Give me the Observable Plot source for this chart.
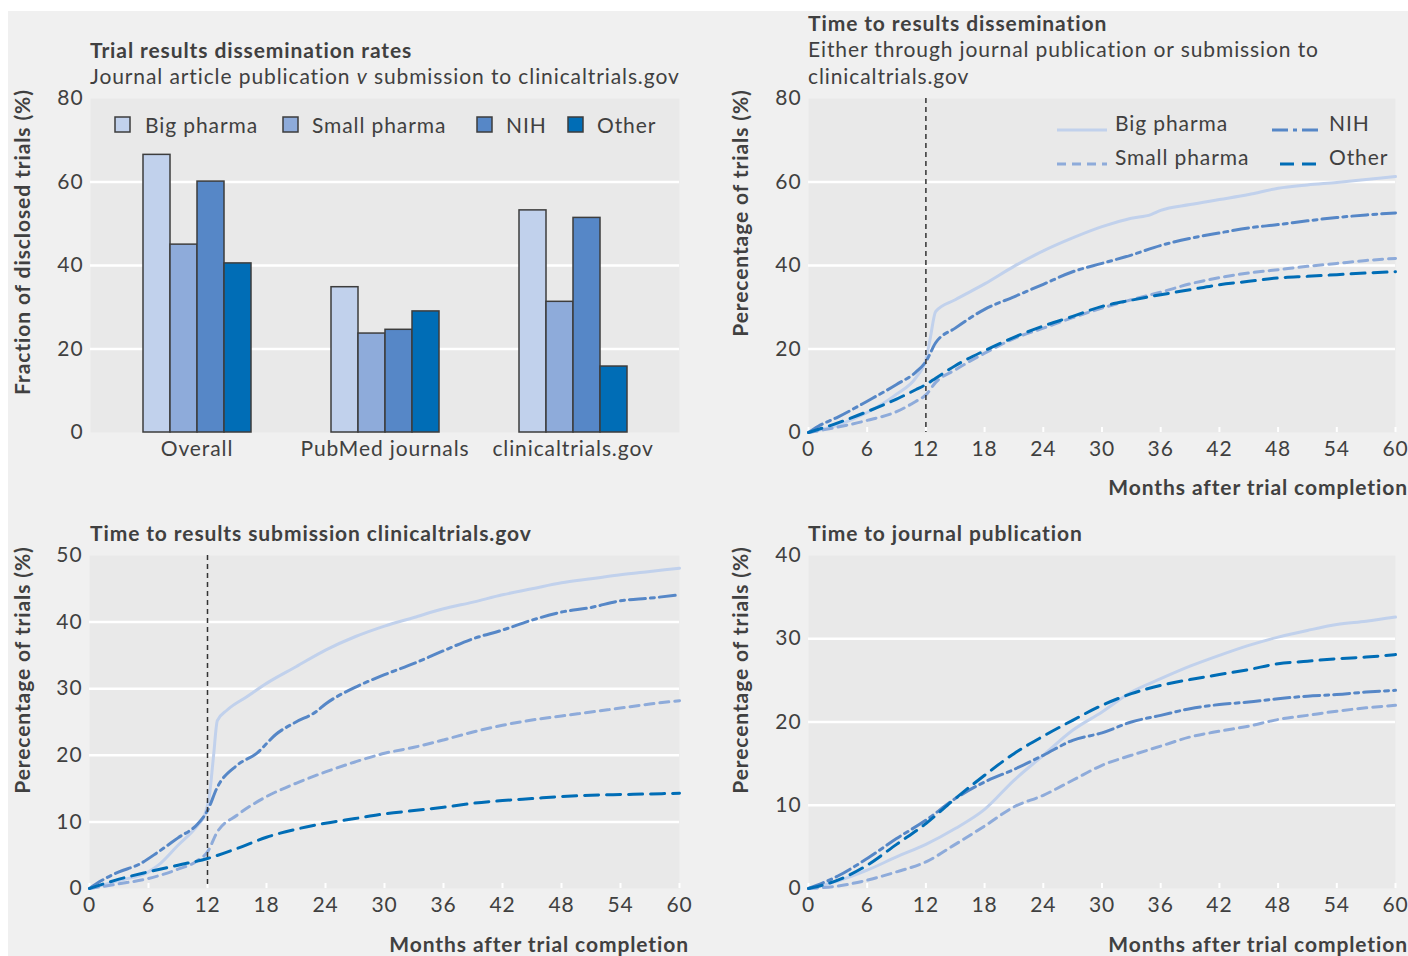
<!DOCTYPE html>
<html><head><meta charset="utf-8">
<script src="https://cdn.jsdelivr.net/npm/d3@7"></script>
<script src="https://cdn.jsdelivr.net/npm/@observablehq/plot@0.6"></script>
<style>
body{margin:0;background:#fff;font-family:Lato,"Open Sans",sans-serif;letter-spacing:0.9px;}
#wrap{position:relative;width:1408px;height:956px;overflow:hidden;}
#bg{position:absolute;left:8px;top:11px;width:1400px;height:945px;background:#f0f0f0;}
.t{position:absolute;white-space:nowrap;line-height:1;color:#404040;}
.box{position:absolute;}
</style></head><body><div id="wrap"><div id="bg"></div></div>
<script>
// ---------- data ----------
const seriesNames = ["Big pharma", "Small pharma", "NIH", "Other"];
const seriesColors = ["#c1d1ec", "#8eabda", "#5687c7", "#006db6"];
const seriesDash = [null, "9,6", "16,5,4,5", "14,8"];

const barGroups = ["Overall", "PubMed journals", "clinicaltrials.gov"];
const barBig = [66.5, 34.8, 53.2];
const barSmall = [45.0, 23.7, 31.3];
const barNIH = [60.1, 24.6, 51.4];
const barOther = [40.5, 29.0, 15.8];
const barTicks = [0, 20, 40, 60, 80];

const monthTicks = [0, 6, 12, 18, 24, 30, 36, 42, 48, 54, 60];
const dissTicks = [0, 20, 40, 60, 80];
const subTicks = [0, 10, 20, 30, 40, 50];
const pubTicks = [0, 10, 20, 30, 40];
const cutoffMonth = [12];

// Time to results dissemination
const dissBig = [[0,0],[3,1.8],[6,4.8],[9,9.2],[11,13.2],[12,17.5],[12.4,22],[13,29],[15,31.8],[18,35.6],[21,39.8],[24,43.5],[27,46.6],[30,49.3],[33,51.3],[35,52.2],[36,53.2],[39,54.6],[42,55.8],[45,57],[48,58.5],[51,59.3],[54,59.9],[57,60.6],[60,61.3]];
const dissSmall = [[0,0],[3,1.3],[6,2.9],[9,5],[11,7.5],[12,9],[13,12],[15,15],[18,19],[21,22.5],[24,25],[27,27.5],[30,29.8],[33,31.8],[36,33.6],[39,35.6],[42,37.1],[45,38.2],[48,39],[51,39.8],[54,40.5],[57,41.2],[60,41.7]];
const dissNIH = [[0,0],[1,1.5],[3,3.7],[6,7.5],[9,11.5],[11,14.5],[12,17],[13,21.5],[15,25],[18,29.5],[21,32.5],[24,35.5],[27,38.5],[30,40.5],[33,42.5],[36,44.8],[39,46.5],[42,47.8],[45,49],[48,49.8],[51,50.7],[54,51.5],[57,52.1],[60,52.6]];
const dissOther = [[0,0],[3,2.3],[6,5],[9,8],[11,10.3],[12,11.5],[13,13],[15,16],[18,19.6],[21,22.8],[24,25.5],[27,27.8],[30,30.2],[33,31.7],[36,33],[39,34.2],[42,35.4],[45,36.2],[48,37],[51,37.4],[54,37.8],[57,38.2],[60,38.5]];

// Time to results submission clinicaltrials.gov
const subBig = [[0,0],[3,1.2],[6,2.5],[7,3.5],[9,6.5],[11,9.5],[11.7,11],[12.2,14],[12.6,19.7],[13,25.2],[14,26.8],[16,28.8],[18,30.8],[21,33.3],[24,35.8],[27,37.8],[30,39.4],[33,40.7],[36,42],[39,43],[42,44.1],[45,45],[48,45.9],[51,46.5],[54,47.1],[57,47.6],[60,48.1]];
const subSmall = [[0,0],[3,0.7],[6,1.5],[9,2.9],[11,4.2],[12,5.5],[13,8.5],[15,11],[18,13.8],[21,15.8],[24,17.5],[27,19],[30,20.3],[33,21.2],[36,22.3],[39,23.5],[42,24.5],[45,25.3],[48,25.9],[51,26.5],[54,27.1],[57,27.7],[60,28.2]];
const subNIH = [[0,0],[1,1],[3,2.5],[5,3.6],[7,5.5],[9,7.6],[11,9.7],[12,11.7],[13,15.2],[15,18.5],[17,20.3],[19,23.2],[21,25],[23,26.5],[24,27.7],[27,30.2],[30,32.1],[33,33.8],[36,35.7],[39,37.5],[42,38.8],[45,40.3],[48,41.5],[51,42.2],[54,43.2],[57,43.6],[60,44.1]];
const subOther = [[0,0],[3,1.4],[6,2.5],[9,3.5],[12,4.5],[15,6],[18,7.7],[21,8.9],[24,9.8],[27,10.5],[30,11.2],[33,11.7],[36,12.2],[39,12.8],[42,13.2],[45,13.5],[48,13.8],[51,14],[54,14.1],[57,14.2],[60,14.3]];

// Time to journal publication
const pubBig = [[0,0],[3,0.9],[6,2.2],[9,3.8],[12,5.3],[15,7.2],[18,9.5],[21,13],[24,16],[27,19],[30,21.2],[33,23.6],[36,25.2],[39,26.7],[42,28],[45,29.2],[48,30.2],[51,31],[54,31.7],[57,32.1],[60,32.6]];
const pubSmall = [[0,0],[3,0.3],[6,1],[9,2],[12,3.2],[15,5.3],[18,7.5],[21,9.8],[24,11.2],[27,13],[30,14.8],[33,16],[36,17.1],[39,18.2],[42,18.9],[45,19.5],[48,20.3],[51,20.8],[54,21.3],[57,21.7],[60,22]];
const pubNIH = [[0,0],[3,1.5],[6,3.6],[9,6],[12,8.2],[15,10.8],[18,12.8],[21,14.3],[24,16],[27,17.8],[30,18.7],[33,20],[36,20.8],[39,21.6],[42,22.1],[45,22.4],[48,22.8],[51,23.1],[54,23.3],[57,23.6],[60,23.8]];
const pubOther = [[0,0],[3,1],[6,2.8],[9,5.3],[12,7.8],[15,10.8],[18,13.6],[21,16.2],[24,18.3],[27,20.2],[30,22],[33,23.4],[36,24.4],[39,25.1],[42,25.7],[45,26.3],[48,27],[51,27.3],[54,27.6],[57,27.8],[60,28.1]];

// ---------- helpers ----------
const wrap = document.getElementById("wrap");
const FONT = "Lato, 'Open Sans', sans-serif";
const TXT = "#404040";
const PLOTBG = "#e9e9e9";

function addText(str, {x, base, size = 21, weight = 400, align = "left"}) {
  const d = document.createElement("div");
  d.className = "t"; d.textContent = str;
  d.style.fontSize = size + "px"; d.style.fontWeight = weight;
  d.style.top = (base - 0.887 * size) + "px";
  if (align === "left") d.style.left = x + "px"; else d.style.right = (1408 - x) + "px";
  wrap.appendChild(d);
  return d;
}
function addTextMid(str, x, cy, size = 21, weight = 400) {
  const d = document.createElement("div");
  d.className = "t"; d.textContent = str;
  d.style.fontSize = size + "px"; d.style.fontWeight = weight;
  d.style.left = x + "px"; d.style.top = (cy - 0.527 * size) + "px";
  wrap.appendChild(d);
}
function addVText(str, cx, cy, size = 21, weight = 700) {
  const d = document.createElement("div");
  d.className = "t"; d.textContent = str;
  d.style.fontSize = size + "px"; d.style.fontWeight = weight;
  d.style.left = cx + "px"; d.style.top = cy + "px";
  d.style.transform = "translate(-50%,-50%) rotate(-90deg)";
  wrap.appendChild(d);
}
function place(node, left, top) {
  const b = document.createElement("div");
  b.className = "box"; b.style.left = left + "px"; b.style.top = top + "px";
  b.appendChild(node); wrap.appendChild(b);
}
const baseStyle = {background: "transparent", fontFamily: FONT, fontSize: "21px", letterSpacing: "0.9px", color: TXT, overflow: "visible"};

function linePanel({series, yTicks, cutoff, left, top, width, height, m}) {
  const yMax = yTicks[yTicks.length - 1];
  const grid = yTicks.filter(t => t > 0 && t < yMax);
  const plotH = height - m.top - m.bottom;
  const marks = [
    Plot.frame({fill: PLOTBG, stroke: "none"}),
    Plot.ruleY(grid, {stroke: "white", strokeWidth: 2.5}),
    Plot.tickX(monthTicks, {x: d => d, stroke: "white", strokeWidth: 2, insetTop: plotH - 5})
  ];
  series.forEach((s, i) => {
    marks.push(Plot.line(s, {x: d => d[0], y: d => d[1], stroke: seriesColors[i], strokeWidth: 3,
      strokeDasharray: seriesDash[i] || undefined, curve: "monotone-x"}));
  });
  if (cutoff) marks.push(Plot.ruleX(cutoffMonth, {stroke: "#333", strokeWidth: 1.5, strokeDasharray: "5,4"}));
  const p = Plot.plot({
    width, height, marginLeft: m.left, marginRight: m.right, marginTop: m.top, marginBottom: m.bottom,
    style: baseStyle,
    x: {domain: [0, 60], ticks: monthTicks, tickSize: 0, tickPadding: 9, label: null},
    y: {domain: [0, yMax], ticks: yTicks, tickSize: 0, tickPadding: 7, label: null},
    marks
  });
  place(p, left, top);
}

// ---------- panel A: bars ----------
const barData = [];
barGroups.forEach((g, gi) => {
  [barBig, barSmall, barNIH, barOther].forEach((arr, si) => {
    barData.push({group: g, series: seriesNames[si], value: arr[gi]});
  });
});
const aM = {left: 90, right: 21, top: 10, bottom: 36};
const under = Plot.plot({
  width: 700, height: 380, marginLeft: aM.left, marginRight: aM.right, marginTop: aM.top, marginBottom: aM.bottom,
  style: baseStyle,
  x: {domain: [0, 1], axis: null},
  y: {domain: [0, 80], ticks: barTicks, tickSize: 0, tickPadding: 7, label: null},
  marks: [
    Plot.frame({fill: PLOTBG, stroke: "none"}),
    Plot.ruleY(barTicks.filter(t => t > 0 && t < 80), {stroke: "white", strokeWidth: 2.5})
  ]
});
place(under, 0, 88);
const bars = Plot.plot({
  width: 700, height: 380, marginLeft: aM.left, marginRight: aM.right, marginTop: aM.top, marginBottom: aM.bottom,
  style: baseStyle,
  fx: {domain: barGroups, paddingInner: 0.41, paddingOuter: 0.27, axis: "bottom", tickSize: 0, tickPadding: 9, label: null},
  x: {domain: seriesNames, padding: 0, axis: null},
  y: {domain: [0, 80], axis: null},
  color: {domain: seriesNames, range: seriesColors},
  marks: [
    Plot.barY(barData, {fx: "group", x: "series", y: "value", fill: "series", stroke: "#3d3d3d", strokeWidth: 1.5})
  ]
});
place(bars, 0, 88);

// bar legend
const boxX = [114, 282, 476, 567];
const boxTextX = [145, 312, 506, 597];
seriesNames.forEach((s, i) => {
  const sv = d3.create("svg").attr("width", 18).attr("height", 18);
  sv.append("rect").attr("x", 1).attr("y", 1).attr("width", 15).attr("height", 15)
    .attr("fill", seriesColors[i]).attr("stroke", "#3d3d3d").attr("stroke-width", 1.5);
  place(sv.node(), boxX[i], 116);
  addTextMid(s, boxTextX[i], 125);
});
addText("Trial results dissemination rates", {x: 90, base: 57.5, weight: 700});
const sub = addText("", {x: 90, base: 83.5});
sub.innerHTML = "Journal article publication <i>v</i> submission to clinicaltrials.gov";
addVText("Fraction of disclosed trials (%)", 21, 242);

// ---------- panel B: dissemination ----------
linePanel({series: [dissBig, dissSmall, dissNIH, dissOther], yTicks: dissTicks, cutoff: true,
  left: 700, top: 90, width: 708, height: 380, m: {left: 108, right: 13, top: 8, bottom: 38}});
addText("Time to results dissemination", {x: 808, base: 30.7, weight: 700});
addText("Either through journal publication or submission to", {x: 808, base: 56.7});
addText("clinicaltrials.gov", {x: 808, base: 83.3});
addText("Months after trial completion", {x: 1408, base: 495, weight: 700, align: "right"});
addVText("Perecentage of trials (%)", 739, 213);
// line legend
const legX = [1057, 1057, 1272, 1280];
const legW = [50, 50, 50, 42];
const legTX = [1115, 1115, 1329, 1329];
const legY = [122, 156, 122, 156];
[0, 1, 2, 3].forEach(i => {
  const sv = d3.create("svg").attr("width", legW[i]).attr("height", 8);
  sv.append("line").attr("x1", 0).attr("x2", legW[i]).attr("y1", 4).attr("y2", 4)
    .attr("stroke", seriesColors[i]).attr("stroke-width", 3)
    .attr("stroke-dasharray", seriesDash[i] || null);
  place(sv.node(), legX[i], legY[i] - 4);
  addTextMid(seriesNames[i], legTX[i], legY[i] + 1);
});

// ---------- panel C: submission ----------
linePanel({series: [subBig, subSmall, subNIH, subOther], yTicks: subTicks, cutoff: true,
  left: 0, top: 545, width: 700, height: 380, m: {left: 89, right: 21, top: 10, bottom: 37}});
addText("Time to results submission clinicaltrials.gov", {x: 90, base: 540.7, weight: 700});
addText("Months after trial completion", {x: 689, base: 951.5, weight: 700, align: "right"});
addVText("Perecentage of trials (%)", 21, 670);

// ---------- panel D: publication ----------
linePanel({series: [pubBig, pubSmall, pubNIH, pubOther], yTicks: pubTicks, cutoff: false,
  left: 700, top: 545, width: 708, height: 380, m: {left: 108, right: 13, top: 10, bottom: 37}});
addText("Time to journal publication", {x: 808, base: 540.7, weight: 700});
addText("Months after trial completion", {x: 1408, base: 951.5, weight: 700, align: "right"});
addVText("Perecentage of trials (%)", 739, 670);
</script>
</body></html>
